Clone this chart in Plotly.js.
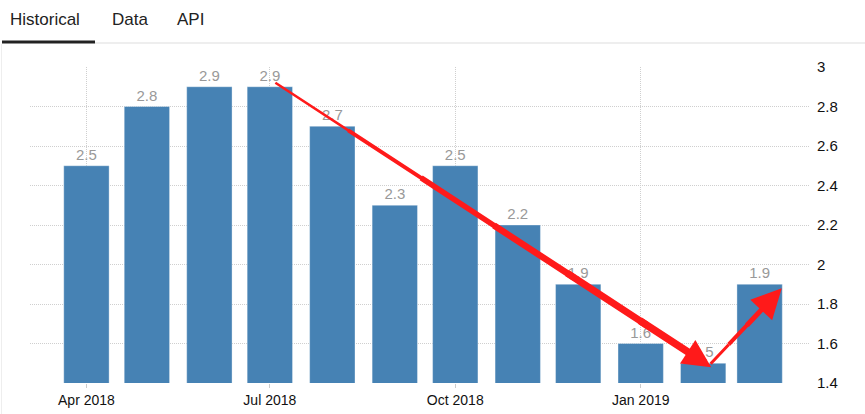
<!DOCTYPE html>
<html>
<head>
<meta charset="utf-8">
<script src="https://cdn.plot.ly/plotly-3.0.1.min.js"></script>
<style>
html,body{margin:0;padding:0;background:#fff;}
#chart{width:865px;height:414px;}
</style>
</head>
<body>
<div id="chart"></div>
<script>
const months = ['2018-04-01','2018-05-01','2018-06-01','2018-07-01','2018-08-01','2018-09-01',
                '2018-10-01','2018-11-01','2018-12-01','2019-01-01','2019-02-01','2019-03-01'];
const values = [2.5, 2.8, 2.9, 2.9, 2.7, 2.3, 2.5, 2.2, 1.9, 1.6, 1.5, 1.9];
const tickDates = ['2018-04-01','2018-07-01','2018-10-01','2019-01-01'];
const tickLabels = ['Apr 2018','Jul 2018','Oct 2018','Jan 2019'];
const tabs = ['Historical','Data','API'];

const DAY = 86400000;
const toMs = s => new Date(s + 'T00:00:00Z').getTime();
const fromMs = ms => new Date(ms).toISOString().replace('T',' ').replace('Z','').slice(0,19);

// paper coordinate helpers (plot area: x 30..810 px, y 67..383 px)
const L = 30, R = 810, T = 67, B = 383;
const px = p => (p - L) / (R - L);
const py = q => (B - q) / (B - T);
const FONT = 'Liberation Sans, Arial, sans-serif';

const trace = {
  type: 'bar',
  x: months,
  y: values,
  width: months.map(() => 22.5 * DAY),
  marker: {color: '#4682b4', line: {color: 'rgba(255,255,255,0.35)', width: 1}},
  text: values.map(v => v.toFixed(1)),
  textposition: 'outside',
  textfont: {family: FONT, size: 15, color: '#999999'},
  cliponaxis: false,
  hoverinfo: 'x+y'
};

const annotations = [];
// tabs
const tabX = [8, 110, 175];
tabs.forEach((t, i) => {
  annotations.push({
    xref: 'paper', yref: 'paper', x: px(tabX[i]), y: py(19),
    xanchor: 'left', yanchor: 'middle', showarrow: false,
    text: t, font: {family: FONT, size: 17, color: '#222'}
  });
});

// tapered red arrow built from segments of increasing width (data coordinates)
function taperedArrow(x0, y0, x1, y1, widths, headSize) {
  const n = widths.length;
  for (let k = 0; k < n; k++) {
    const f0 = k / n, f1 = (k + 1) / n;
    const last = k === n - 1;
    const fe = last ? 1 : Math.min(1, f1 + 0.02);
    annotations.push({
      xref: 'x', yref: 'y', axref: 'x', ayref: 'y',
      ax: fromMs(x0 + (x1 - x0) * f0), ay: y0 + (y1 - y0) * f0,
      x: fromMs(x0 + (x1 - x0) * fe), y: y0 + (y1 - y0) * fe,
      text: '', showarrow: true,
      arrowhead: last ? 2 : 0, arrowsize: last ? headSize : 1, arrowwidth: widths[k],
      arrowcolor: '#ff1a1a', standoff: 0, startstandoff: 0
    });
  }
}
const iPeak = 3, iLow = 10, iLast = 11;
taperedArrow(toMs(months[iPeak]) + 2 * DAY, values[iPeak] + 0.025,
             toMs(months[iLow]) + 4 * DAY, values[iLow] - 0.02,
             [2.5, 4, 5.5, 6.5, 7, 7.5], 0.75);
taperedArrow(toMs(months[iLow]) + 3 * DAY, values[iLow] - 0.01,
             toMs(months[iLast]) + 11 * DAY, values[iLast] - 0.02,
             [3, 4, 5, 6], 1.0);

const shapes = [
  {type: 'line', xref: 'paper', yref: 'paper', x0: px(95), x1: px(865), y0: py(43), y1: py(43),
   line: {color: '#dddddd', width: 1}},
  {type: 'line', xref: 'paper', yref: 'paper', x0: px(2), x1: px(95), y0: py(42), y1: py(42),
   line: {color: '#222222', width: 3}},
  {type: 'line', xref: 'paper', yref: 'paper', x0: px(1.5), x1: px(1.5), y0: py(44), y1: py(414),
   line: {color: '#eeeeee', width: 1}}
];

const layout = {
  width: 865, height: 414,
  margin: {l: L, r: 865 - R, t: T, b: 414 - B, pad: 0},
  paper_bgcolor: '#ffffff', plot_bgcolor: '#ffffff',
  showlegend: false,
  bargap: 0,
  xaxis: {
    type: 'date',
    range: ['2018-03-04', '2019-03-26'],
    tickmode: 'array', tickvals: tickDates, ticktext: tickLabels,
    showgrid: true, gridcolor: '#cfcfcf', griddash: '1px,1px', gridwidth: 1,
    ticks: 'outside', ticklen: 4, tickcolor: '#cccccc',
    showline: false, zeroline: false,
    tickfont: {family: FONT, size: 14, color: '#111'},
    fixedrange: true
  },
  yaxis: {
    side: 'right',
    range: [1.4, 3],
    tickvals: [1.4, 1.6, 1.8, 2, 2.2, 2.4, 2.6, 2.8, 3],
    ticktext: ['1.4','1.6','1.8','2','2.2','2.4','2.6','2.8','3'],
    showgrid: true, gridcolor: '#cfcfcf', griddash: '1px,1px', gridwidth: 1,
    zeroline: false, showline: false, ticks: '', ticklabelstandoff: 6,
    tickfont: {family: FONT, size: 15, color: '#111'},
    fixedrange: true
  },
  annotations: annotations,
  shapes: shapes
};

Plotly.newPlot('chart', [trace], layout, {displayModeBar: false, staticPlot: true});
</script>
</body>
</html>
